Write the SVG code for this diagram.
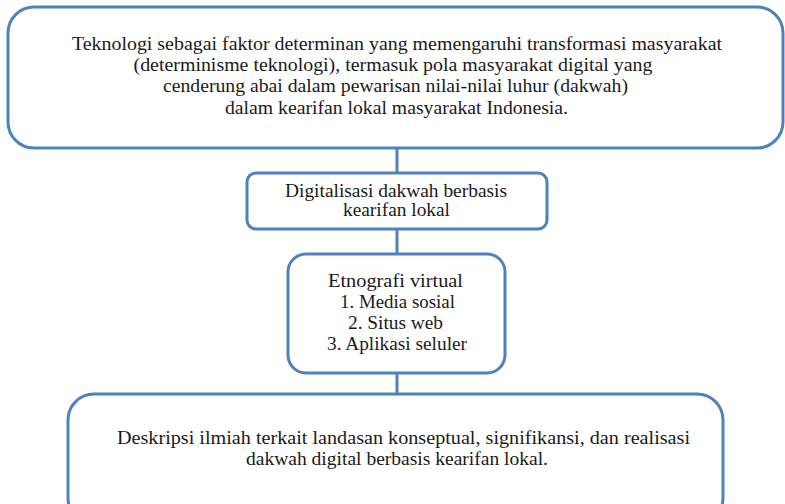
<svg xmlns="http://www.w3.org/2000/svg" width="785" height="504" viewBox="0 0 785 504">
<style>
.box{fill:#fff;stroke:#4f81bd;stroke-width:3}
.con{stroke:#4f81bd;stroke-width:3;fill:none}
</style>
<rect width="785" height="504" fill="#fff"/>
<g id="connectors">
<line class="con" x1="397" y1="148" x2="397" y2="173"/>
<line class="con" x1="397" y1="229" x2="397" y2="254"/>
<line class="con" x1="397" y1="373" x2="397" y2="394"/>
</g>
<g font-family="Liberation Serif, DejaVu Serif, serif" font-size="18" fill="#1a1a1a" text-anchor="middle">
<g id="node1">
<rect class="box" x="8" y="7" width="775" height="141" rx="26"/>
<text x="397" y="50" textLength="650" lengthAdjust="spacingAndGlyphs">Teknologi sebagai faktor determinan yang memengaruhi transformasi masyarakat</text>
<text x="393" y="71" textLength="519" lengthAdjust="spacingAndGlyphs">(determinisme teknologi), termasuk pola masyarakat digital yang</text>
<text x="395.5" y="92" textLength="465" lengthAdjust="spacingAndGlyphs">cenderung abai dalam pewarisan nilai-nilai luhur (dakwah)</text>
<text x="396.5" y="114" textLength="343" lengthAdjust="spacingAndGlyphs">dalam kearifan lokal masyarakat Indonesia.</text>
</g>
<g id="node2">
<rect class="box" x="247" y="173" width="300" height="56" rx="9"/>
<text x="396" y="197" textLength="222" lengthAdjust="spacingAndGlyphs">Digitalisasi dakwah berbasis</text>
<text x="396.5" y="216" textLength="107" lengthAdjust="spacingAndGlyphs">kearifan lokal</text>
</g>
<g id="node3">
<rect class="box" x="288" y="254" width="217" height="119" rx="18"/>
<text x="395.5" y="287" textLength="135" lengthAdjust="spacingAndGlyphs">Etnografi virtual</text>
<text x="397.5" y="308" textLength="115" lengthAdjust="spacingAndGlyphs">1. Media sosial</text>
<text x="395.5" y="329" textLength="95" lengthAdjust="spacingAndGlyphs">2. Situs web</text>
<text x="397" y="350" textLength="140" lengthAdjust="spacingAndGlyphs">3. Aplikasi seluler</text>
</g>
<g id="node4">
<rect class="box" x="68" y="394" width="655" height="130" rx="26"/>
<text x="403.5" y="444" textLength="573" lengthAdjust="spacingAndGlyphs">Deskripsi ilmiah terkait landasan konseptual, signifikansi, dan realisasi</text>
<text x="397" y="465" textLength="302" lengthAdjust="spacingAndGlyphs">dakwah digital berbasis kearifan lokal.</text>
</g>
</g>
</svg>
